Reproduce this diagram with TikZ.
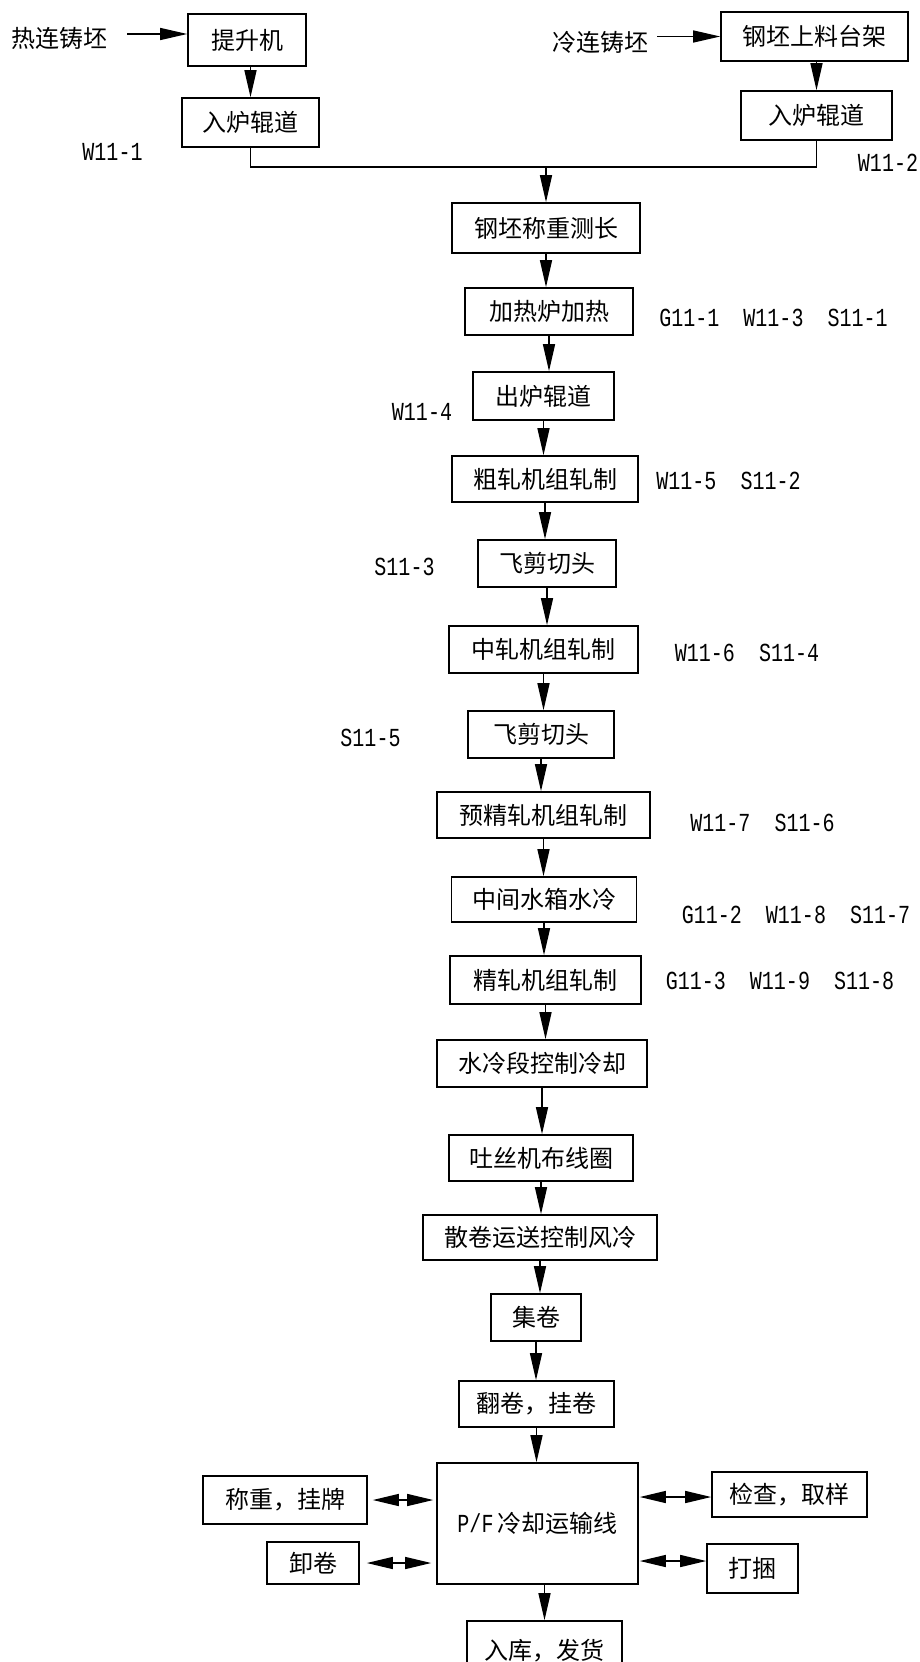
\documentclass[tikz,border=0pt]{standalone}
\usepackage{fontspec}
\usetikzlibrary{arrows.meta}
\newfontfamily\cjk{Noto Sans CJK SC}
\newfontfamily\lat[FakeStretch=0.77]{Liberation Mono}
\newcommand\cjkf{\cjk\fontsize{24}{28}\selectfont}
\newcommand\latf{\lat\fontsize{26}{30}\selectfont}
\tikzset{
  pbox/.style={draw, line width=1.6pt, inner sep=0pt, font=\cjkf},
  sz/.style n args={2}{minimum width=#1pt, minimum height=#2pt},
  txt/.style={inner sep=0pt, font=\cjkf},
  lab/.style={inner sep=0pt, font=\latf},
  ln/.style={line width=1.4pt},
  arr/.style={line width=1.4pt, -{Triangle[length=27pt,width=12pt]}},
  darr/.style={line width=1.4pt, {Triangle[length=26pt,width=12pt]}-{Triangle[length=26pt,width=12pt]}}
}
\begin{document}
\begin{tikzpicture}[x=1pt,y=-1pt]
\useasboundingbox (0,0) rectangle (920,1662);
\fill[white] (0,0) rectangle (920,1662);
\clip (0,0) rectangle (920,1662);

% top inputs
\node[txt] (hot) at (59,38) {热连铸坯};
\node[pbox, sz={118}{52}] (lift) at (247,40) {提升机};
\node[pbox, sz={137}{49}] (inL) at (250.5,122.5) {入炉辊道};
\node[lab] (w1) at (112.5,152) {W11-1};
\node[txt] (cold) at (600,42) {冷连铸坯};
\node[pbox, sz={187}{49}] (rack) at (814.5,36.5) {钢坯上料台架};
\node[pbox, sz={151}{49}] (inR) at (816.5,115.5) {入炉辊道};
\node[lab] (w2) at (888,163) {W11-2};

% main column
\node[pbox, sz={188}{50}] (weigh) at (546,228) {钢坯称重测长};
\node[pbox, sz={168}{47}] (heat) at (549,311.5) {加热炉加热};
\node[lab] (l1) at (773.5,318) {G11-1~~W11-3~~S11-1};
\node[pbox, sz={141}{48}] (outR) at (543.5,396) {出炉辊道};
\node[lab] (w4) at (422,412) {W11-4};
\node[pbox, sz={186}{46}] (rough) at (545,479) {粗轧机组轧制};
\node[lab] (l2) at (728.5,481) {W11-5~~S11-2};
\node[pbox, sz={138}{47}] (shearA) at (547,563.5) {飞剪切头};
\node[lab] (s3) at (404.5,567) {S11-3};
\node[pbox, sz={189}{47}] (mid) at (543.5,649.5) {中轧机组轧制};
\node[lab] (l3) at (747,653) {W11-6~~S11-4};
\node[pbox, sz={146}{47}] (shearB) at (541,734.5) {飞剪切头};
\node[lab] (s5) at (370.5,738) {S11-5};
\node[pbox, sz={213}{46}] (pre) at (543.5,815) {预精轧机组轧制};
\node[lab] (l4) at (762.5,823) {W11-7~~S11-6};
\node[pbox, sz={185}{45}] (tank) at (544,899.5) {中间水箱水冷};
\node[lab] (l5) at (796,915) {G11-2~~W11-8~~S11-7};
\node[pbox, sz={191}{48}] (fin) at (545.5,980) {精轧机组轧制};
\node[lab] (l6) at (780,981) {G11-3~~W11-9~~S11-8};
\node[pbox, sz={210}{47}] (water) at (542,1063.5) {水冷段控制冷却};
\node[pbox, sz={184}{46}] (lay) at (541,1158) {吐丝机布线圈};
\node[pbox, sz={234}{45}] (loose) at (540,1237.5) {散卷运送控制风冷};
\node[pbox, sz={90}{47}] (coll) at (536,1317.5) {集卷};
\node[pbox, sz={155}{46}] (turn) at (536.5,1404) {翻卷，挂卷};
\node[pbox, sz={201}{121}] (pf) at (537.5,1523.5) {{\latf P/F}\,冷却运输线};
\node[pbox, sz={164}{48}] (wt) at (285,1500) {称重，挂牌};
\node[pbox, sz={92}{42}] (unl) at (313,1563) {卸卷};
\node[pbox, sz={155}{45}] (insp) at (789.5,1494.5) {检查，取样};
\node[pbox, sz={91}{49}] (bund) at (752.5,1568.5) {打捆};
\node[pbox, sz={155}{60}] (store) at (544.5,1651) {入库，发货};

% connectors at the top
\coordinate (hA) at ([yshift=4pt]hot.east);
\draw[arr, shorten <=20pt] (hA) -- (hA -| lift.west);
\draw[arr, shorten <=9pt] (cold.east |- rack.west) -- (rack.west);
\draw[arr] (lift.south -| inL.north) -- (inL.north);
\draw[arr] (rack.south -| inR.north) -- (inR.north);
\coordinate (jn) at ([yshift=-19pt]inL.south);
\draw[ln] (inL.south) -- (jn) -| (inR.south);
\draw[arr] (jn -| weigh.north) -- (weigh.north);

% main chain
\foreach \a/\b in {weigh/heat, heat/outR, outR/rough, rough/shearA, shearA/mid, mid/shearB, shearB/pre, pre/tank, tank/fin, fin/water, water/lay, lay/loose, loose/coll, coll/turn, turn/pf}
  \draw[arr] (\a.south) -- (\a.south |- \b.north);
\draw[arr] (pf.south -| store.north) -- (store.north);

% side double arrows
\draw[darr, shorten <=5pt, shorten >=3pt] (wt.east) -- (wt.east -| pf.west);
\draw[darr, shorten <=7pt, shorten >=5pt] (unl.east) -- (unl.east -| pf.west);
\draw[darr, shorten <=1pt] (pf.east |- 0,1497) -- (insp.west |- 0,1497);
\draw[darr, shorten <=1pt] (pf.east |- 0,1561) -- (bund.west |- 0,1561);
\end{tikzpicture}
\end{document}
